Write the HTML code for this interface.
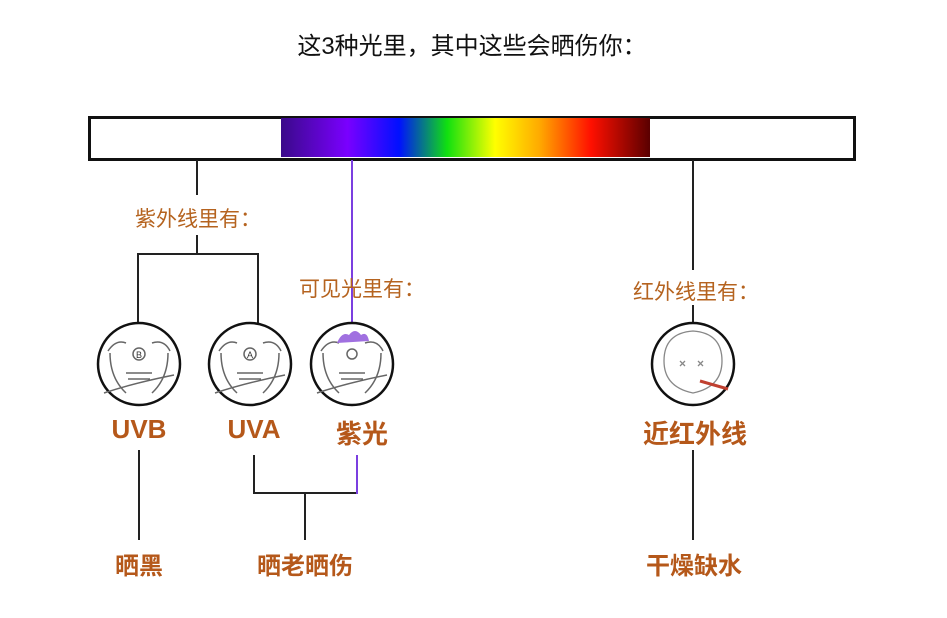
<!DOCTYPE html><html><head><meta charset="utf-8"><style>
body{margin:0;width:947px;height:618px;background:#fff;overflow:hidden;position:relative;font-family:"Liberation Sans","Noto Sans CJK SC",sans-serif}
.t{position:absolute;white-space:nowrap;transform:translateX(-50%)}
.o{color:#b5631f;font-size:21px}
.b{color:#b5581a;font-size:26px;font-weight:bold}
.l{position:absolute;background:#222}
svg.f{position:absolute;width:86px;height:86px}
</style></head><body>
<div class="t" style="left:472px;top:26px;font-size:24px;color:#111">这3种光里，其中这些会晒伤你：</div>
<div style="position:absolute;left:88px;top:116px;width:762px;height:39px;border:3px solid #111;background:#fff"></div>
<div style="position:absolute;left:281px;top:118px;width:369px;height:39px;background:linear-gradient(90deg,#3a0a8a 0%,#7a00ff 18%,#0010ff 32%,#10e010 45%,#ffff00 58%,#ffaa00 70%,#ff1000 84%,#5a0000 100%)"></div>
<div class="l" style="left:196px;top:160px;width:2px;height:35px"></div>
<div class="t o" style="left:198px;top:203px">紫外线里有：</div>
<div class="l" style="left:196px;top:235px;width:2px;height:19px"></div>
<div class="l" style="left:137px;top:253px;width:122px;height:2px"></div>
<div class="l" style="left:137px;top:253px;width:2px;height:72px"></div>
<div class="l" style="left:257px;top:253px;width:2px;height:72px"></div>
<div style="position:absolute;left:351px;top:160px;width:2px;height:170px;background:#7b3fe0"></div>
<div class="t o" style="left:362px;top:273px">可见光里有：</div>
<div class="l" style="left:692px;top:160px;width:2px;height:110px"></div>
<div class="t o" style="left:696px;top:276px">红外线里有：</div>
<div class="l" style="left:692px;top:305px;width:2px;height:25px"></div>

<svg class="f" style="left:96px;top:321px" viewBox="0 0 86 86"><circle cx="43" cy="43" r="41" fill="#fff" stroke="#111" stroke-width="2.5"/><g fill="none" stroke="#666" stroke-width="1.5"><path d="M12 30 q8-12 18-8 M56 22 q12-4 18 8 M14 32 q0 25 16 40 M72 32 q0 25-16 40 M30 52 h26 M32 58 h22 M8 72 q30-10 70-18"/><circle cx="43" cy="33" r="6"/></g><text x="43" y="37" font-size="9" text-anchor="middle" fill="#333" font-family="Liberation Sans">B</text></svg>
<svg class="f" style="left:207px;top:321px" viewBox="0 0 86 86"><circle cx="43" cy="43" r="41" fill="#fff" stroke="#111" stroke-width="2.5"/><g fill="none" stroke="#666" stroke-width="1.5"><path d="M12 30 q8-12 18-8 M56 22 q12-4 18 8 M14 32 q0 25 16 40 M72 32 q0 25-16 40 M30 52 h26 M32 58 h22 M8 72 q30-10 70-18"/><circle cx="43" cy="33" r="6"/></g><text x="43" y="37" font-size="9" text-anchor="middle" fill="#333" font-family="Liberation Sans">A</text></svg>
<svg class="f" style="left:309px;top:321px" viewBox="0 0 86 86"><circle cx="43" cy="43" r="41" fill="#fff" stroke="#111" stroke-width="2.5"/><g fill="none" stroke="#666" stroke-width="1.5"><path d="M12 30 q8-12 18-8 M56 22 q12-4 18 8 M14 32 q0 25 16 40 M72 32 q0 25-16 40 M30 52 h26 M32 58 h22 M8 72 q30-10 70-18"/><circle cx="43" cy="33" r="5"/></g><path d="M28 22 q5-12 12-8 q6-8 12 0 q6-4 8 6 z" fill="#a070e0"/></svg>
<svg class="f" style="left:650px;top:321px" viewBox="0 0 86 86"><circle cx="43" cy="43" r="41" fill="#fff" stroke="#111" stroke-width="2.5"/><g fill="none" stroke="#888" stroke-width="1.3"><path d="M14 40 q0-28 29-30 q29 2 29 30 q0 26-29 32 q-29-6-29-32"/><path d="M30 40 l5 5 M35 40 l-5 5 M48 40 l5 5 M53 40 l-5 5"/></g><path d="M50 60 l28 8" stroke="#c04030" stroke-width="3"/></svg>

<div class="t b" style="left:139px;top:414px">UVB</div>
<div class="t b" style="left:254px;top:414px">UVA</div>
<div class="t b" style="left:362px;top:414px">紫光</div>
<div class="t b" style="left:695px;top:414px">近红外线</div>
<div class="l" style="left:138px;top:450px;width:2px;height:90px"></div>
<div class="l" style="left:253px;top:455px;width:2px;height:39px"></div>
<div class="l" style="left:253px;top:492px;width:104px;height:2px"></div>
<div style="position:absolute;left:356px;top:455px;width:2px;height:39px;background:#7b3fe0"></div>
<div class="l" style="left:304px;top:492px;width:2px;height:48px"></div>
<div class="l" style="left:692px;top:450px;width:2px;height:90px"></div>
<div class="t b" style="left:139px;top:546px;font-size:24px">晒黑</div>
<div class="t b" style="left:305px;top:546px;font-size:24px">晒老晒伤</div>
<div class="t b" style="left:694px;top:546px;font-size:24px">干燥缺水</div>
</body></html>
